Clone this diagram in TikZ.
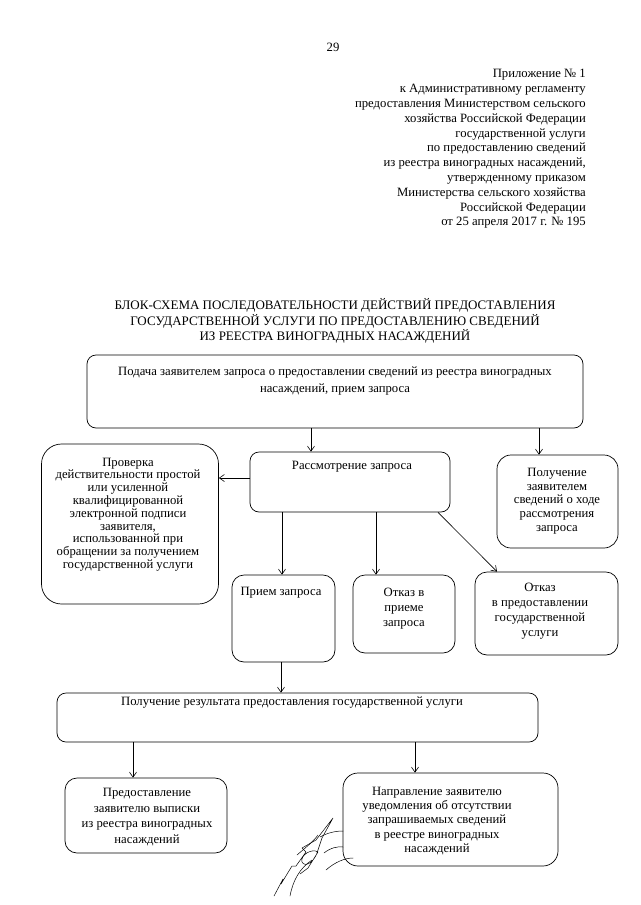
\documentclass[tikz,border=0pt]{standalone}
\usepackage{fontspec}
\setmainfont{Liberation Serif}
\usetikzlibrary{arrows.meta}
\tikzset{
  box/.style={draw, line width=0.7pt, rounded corners=#1, inner sep=0pt},
  box/.default=10pt,
  txt/.style={align=center, inner sep=0pt, font={\fontsize{12.7}{14}\selectfont}},
  arr/.style={line width=0.6pt, -{Straight Barb[length=5pt,width=7pt]}},
  sig/.style={line width=0.5pt, line cap=round, line join=round}
}
\newcommand{\sk}[1]{\fontsize{12.7}{#1}\selectfont}
\begin{document}
\begin{tikzpicture}[x=1pt,y=-1pt]
\useasboundingbox (0,0) rectangle (640,905);
\fill[white] (0,0) rectangle (640,905);

% header texts
\node[txt] (pnum) at (333,47) {29};
\node[txt, align=right, anchor=east, font=\sk{14.8}] (appx) at (586,149) {Приложение № 1\\
к Административному регламенту\\
предоставления Министерством сельского\\
хозяйства Российской Федерации\\
государственной услуги\\
по предоставлению сведений\\
из реестра виноградных насаждений,\\
утвержденному приказом\\
Министерства сельского хозяйства\\
Российской Федерации\\
от 25 апреля 2017 г. № 195};
\node[txt, font={\fontsize{13}{15.5}\selectfont}] (title) at (335,321) {БЛОК-СХЕМА ПОСЛЕДОВАТЕЛЬНОСТИ ДЕЙСТВИЙ ПРЕДОСТАВЛЕНИЯ\\
ГОСУДАРСТВЕННОЙ УСЛУГИ ПО ПРЕДОСТАВЛЕНИЮ СВЕДЕНИЙ\\
ИЗ РЕЕСТРА ВИНОГРАДНЫХ НАСАЖДЕНИЙ};

% boxes
\node[box=9pt, minimum width=496pt, minimum height=73pt] (b1) at (335,391.5) {};
\node[box=9pt, minimum width=200pt, minimum height=60pt] (b2) at (350,482) {};
\node[box=20pt, minimum width=177pt, minimum height=160pt] (b3) at (130,524) {};
\node[box=14pt, minimum width=121pt, minimum height=93pt] (b4) at (557.5,501.5) {};
\node[box=12pt, minimum width=103pt, minimum height=87pt] (b5) at (283.5,618.5) {};
\node[box=12pt, minimum width=102pt, minimum height=78pt] (b6) at (404,614) {};
\node[box=12pt, minimum width=143pt, minimum height=83pt] (b7) at (546.5,613.5) {};
\node[box=9pt, minimum width=481pt, minimum height=49pt] (b8) at (297.5,717.5) {};
\node[box=12pt, minimum width=162pt, minimum height=75pt] (b9) at (146,815.5) {};
\node[box=15pt, minimum width=215pt, minimum height=93pt] (b10) at (450.5,819.5) {};

% box texts
\node[txt, font=\sk{17}] (t1) at (335,381) {Подача заявителем запроса о предоставлении сведений из реестра виноградных\\насаждений, прием запроса};
\node[txt] (t2) at (352,467) {Рассмотрение запроса};
\node[txt, font=\sk{12.8}] (t3) at (128,514.5) {Проверка\\действительности простой\\или усиленной\\квалифицированной\\электронной подписи\\заявителя,\\использованной при\\обращении за получением\\государственной услуги};
\node[txt, font=\sk{13.7}] (t4) at (557,501) {Получение\\заявителем\\сведений о ходе\\рассмотрения\\запроса};
\node[txt] (t5) at (281,593) {Прием запроса};
\node[txt, font=\sk{15}] (t6) at (404,608.5) {Отказ в\\приеме\\запроса};
\node[txt, font=\sk{15}] (t7) at (540,611) {Отказ\\в предоставлении\\государственной\\услуги};
\node[txt] (t8) at (292,703) {Получение результата предоставления государственной услуги};
\node[txt, font=\sk{15.5}] (t9) at (147,817) {Предоставление\\заявителю выписки\\из реестра виноградных\\насаждений};
\node[txt, font=\sk{14.3}] (t10) at (437,821) {Направление заявителю\\уведомления об отсутствии\\запрашиваемых сведений\\в реестре виноградных\\насаждений};

% connectors
\draw[arr] (b1.south -| 311,0) -- (b2.north -| 311,0);
\draw[arr] (b1.south -| 539,0) -- (b4.north -| 539,0);
\draw[arr] (b2.west |- 0,478) -- (b3.east |- 0,478);
\draw[arr] (b2.south -| 282,0) -- (b5.north -| 282,0);
\draw[arr] (b2.south -| 376,0) -- (b6.north -| 376,0);
\draw[arr] (b2.south -| 438,0) -- (b7.north -| 497,0);
\draw[arr] (b5.south -| 281,0) -- (b8.north -| 281,0);
\draw[arr] (b8.south -| 133,0) -- (b9.north -| 133,0);
\draw[arr] (b8.south -| 415,0) -- (b10.north -| 415,0);

% signature
\draw[sig] (274,896) -- (283,879) -- (281,884) -- (292,866) -- (296,866) -- (306,852)
  -- (302,848) -- (316,840) -- (333,818) -- (322,838) -- (318,850)
  .. controls (315,862) and (305,868) .. (302,862)
  .. controls (300,855) and (312,848) .. (318,852)
  -- (308,868) -- (300,874);
\draw[sig] (297,855) .. controls (305,848) and (313,842) .. (318,835);
\draw[sig] (290,896) .. controls (293,880) and (300,868) .. (312,860);
\draw[sig] (326,870) .. controls (335,862) and (345,858) .. (353,858);
\draw[sig] (324,853) .. controls (330,848) and (338,846) .. (343,847);
\draw[sig] (320,837) .. controls (327,833) and (335,831) .. (343,831);
\end{tikzpicture}
\end{document}
